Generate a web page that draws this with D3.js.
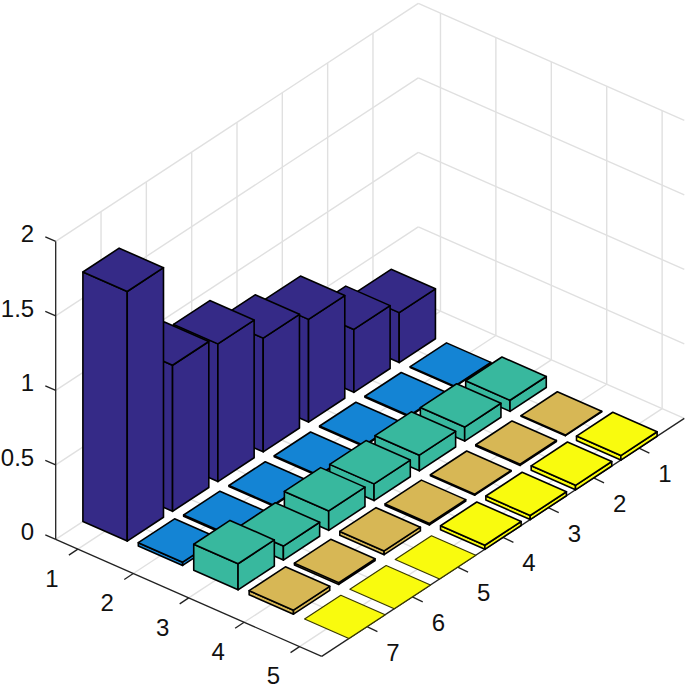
<!DOCTYPE html>
<html lang="en">
	<head>
		<meta charset="utf-8" />
		<title>bar3</title>
		<style>
			html,body{margin:0;padding:0;background:#fff;overflow:hidden;}
			text{font-family:"Liberation Sans",Arial,sans-serif;font-size:24px;fill:#111;}
		</style>
	</head>
	<body>
		<script src="https://cdn.jsdelivr.net/npm/d3@7"></script>
		<script>
			// one list per column, first value is row 1
			var col1 = [0.335,0.422,0.689,0.763,0.924,0.98,1.675];
			var col2 = [0.005,0.006,0.006,0.006,0.006,0.008,0.022];
			var col3 = [0.074,0.094,0.105,0.112,0.13,0.094,0.175];
			var col4 = [0.004,0.008,0.006,0.01,0.025,0.012,0.027];
			var col5 = [0.03,0.03,0.027,0.027,0,0,0];
			var columns = [col1,col2,col3,col4,col5];
			var colors = ['#352A87','#1484D4','#38B89E','#D7B755','#F9FB0E'];
			var xTicks = [1,2,3,4,5];
			var yTicks = [1,2,3,4,5,6,7];
			var zTicks = [0,0.5,1,1.5,2];
			var xLim = [0.6,5.4], yLim = [0,8], zLim = [0,2];
			var halfWidth = 0.4;

			var W = 685, H = 693;
			var originX = 418.3, originY = 301.4;

			// each data axis moves the point along a screen vector
			var xToH = d3.scaleLinear().domain(xLim).range([0,266]);
			var xToV = d3.scaleLinear().domain(xLim).range([0,117]);
			var yToH = d3.scaleLinear().domain(yLim).range([0,-362.6]);
			var yToV = d3.scaleLinear().domain(yLim).range([0,238]);
			var zToV = d3.scaleLinear().domain(zLim).range([0,-298]);

			function project(x,y,z) {
				return [originX+xToH(x)+yToH(y), originY+xToV(x)+yToV(y)+zToV(z)];
			}

			var canvas = d3.select('body').append('svg')
				.attr('width',W)
				.attr('height',H)
				.style('display','block');

			function segment(g,a,b,color,width) {
				var p = project(a[0],a[1],a[2]), q = project(b[0],b[1],b[2]);
				g.append('line')
					.attr('x1',p[0]).attr('y1',p[1])
					.attr('x2',q[0]).attr('y2',q[1])
					.attr('stroke',color)
					.attr('stroke-width',width);
			}

			// grid on floor and the two back walls
			var grid = canvas.append('g');
			var gridColor = '#e0e0e0', gridWidth = 1.4;
			xTicks.forEach(function(d) {
				segment(grid,[d,yLim[0],0],[d,yLim[1],0],gridColor,gridWidth);
				segment(grid,[d,yLim[0],0],[d,yLim[0],zLim[1]],gridColor,gridWidth);
			});
			yTicks.forEach(function(d) {
				segment(grid,[xLim[0],d,0],[xLim[1],d,0],gridColor,gridWidth);
				segment(grid,[xLim[0],d,0],[xLim[0],d,zLim[1]],gridColor,gridWidth);
			});
			zTicks.forEach(function(d) {
				segment(grid,[xLim[0],yLim[0],d],[xLim[1],yLim[0],d],gridColor,gridWidth);
				segment(grid,[xLim[0],yLim[0],d],[xLim[0],yLim[1],d],gridColor,gridWidth);
			});

			// axis lines and ticks
			var axes = canvas.append('g');
			var axisColor = '#222', axisWidth = 1.3;
			segment(axes,[xLim[0],yLim[1],0],[xLim[1],yLim[1],0],axisColor,axisWidth);
			segment(axes,[xLim[1],yLim[1],0],[xLim[1],yLim[0],0],axisColor,axisWidth);
			segment(axes,[xLim[0],yLim[1],0],[xLim[0],yLim[1],zLim[1]],axisColor,axisWidth);

			function tick(from,dx,dy) {
				axes.append('line')
					.attr('x1',from[0]).attr('y1',from[1])
					.attr('x2',from[0]+dx).attr('y2',from[1]+dy)
					.attr('stroke',axisColor)
					.attr('stroke-width',axisWidth);
			}
			function label(x,y,txt,anchor) {
				axes.append('text')
					.attr('x',x).attr('y',y)
					.attr('dy','0.36em')
					.attr('text-anchor',anchor)
					.text(txt);
			}
			xTicks.forEach(function(d) {
				var p = project(d,yLim[1],0);
				tick(p,-9,6);
				label(p[0]-26,p[1]+29,d,'middle');
			});
			yTicks.forEach(function(d) {
				var p = project(xLim[1],d,0);
				tick(p,10.4,5);
				label(p[0]+26,p[1]+25.4,d,'middle');
			});
			zTicks.forEach(function(d) {
				var p = project(xLim[0],yLim[1],d);
				tick(p,-10.4,-4.6);
				label(p[0]-21.5,p[1]-8,d,'end');
			});

			// bars, back to front
			var bars = [];
			columns.forEach(function(values,c) {
				values.forEach(function(v,r) {
					bars.push({col:c+1,row:r+1,value:v,color:colors[c]});
				});
			});

			var outline = d3.line().curve(d3.curveLinearClosed);

			function faces(b) {
				var x0 = b.col-halfWidth, x1 = b.col+halfWidth;
				var y0 = b.row-halfWidth, y1 = b.row+halfWidth;
				var v = b.value;
				var top = [project(x0,y0,v),project(x1,y0,v),project(x1,y1,v),project(x0,y1,v)];
				if(v===0) return [top];
				return [
					[project(x0,y1,0),project(x1,y1,0),project(x1,y1,v),project(x0,y1,v)],
					[project(x1,y0,0),project(x1,y1,0),project(x1,y1,v),project(x1,y0,v)],
					top
				];
			}

			canvas.append('g').selectAll('g')
				.data(bars)
				.join('g')
				.each(function(b) {
					d3.select(this).selectAll('path')
						.data(faces(b))
						.join('path')
						.attr('d',outline)
						.attr('fill',b.color)
						.attr('stroke',b.value===0?'#3a3a00':'#000')
						.attr('stroke-width',b.value===0?1.2:1.6)
						.attr('stroke-linejoin','round');
				});
		</script>
	</body>
</html>
